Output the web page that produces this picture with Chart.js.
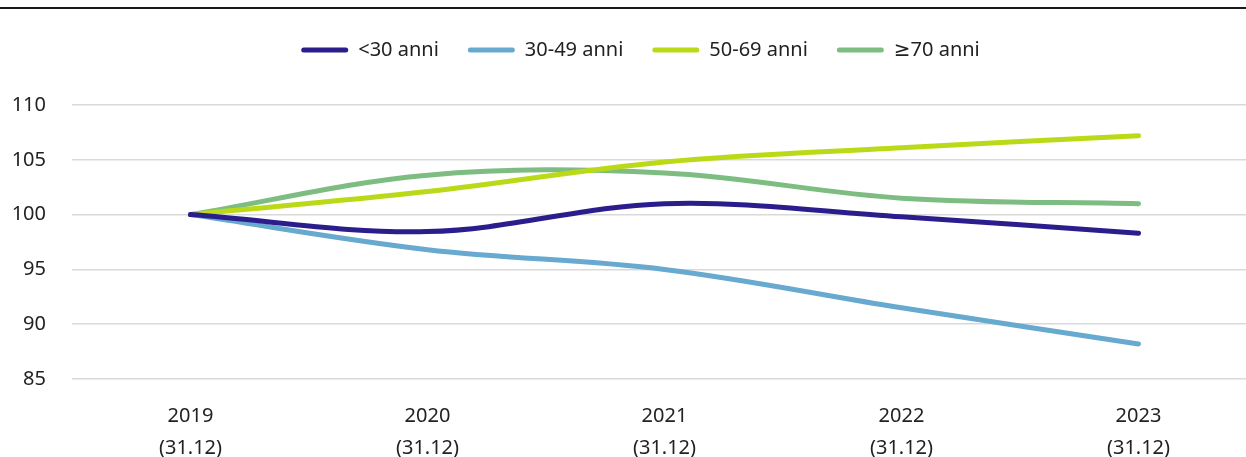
<!DOCTYPE html>
<html>
<head>
<meta charset="utf-8">
<script src="https://cdn.jsdelivr.net/npm/chart.js@4.4.1/dist/chart.umd.min.js"></script>
<style>
  html, body { margin: 0; padding: 0; background: #fff; overflow: hidden; }
  #topRule { position: absolute; left: 0; top: 7px; width: 1246px; height: 2px; background: #1a1a1a; }
  #wrap { position: absolute; left: 0; top: 0; width: 1257px; height: 457px; }
</style>
</head>
<body>
<div id="wrap"><canvas id="ageChart"></canvas></div>
<div id="topRule"></div>
<script>
const years = [['2019', '(31.12)'], ['2020', '(31.12)'], ['2021', '(31.12)'], ['2022', '(31.12)'], ['2023', '(31.12)']];
const under30 = [100, 98.45, 101.0, 99.8, 98.3];
const age30to49 = [100, 96.8, 95.0, 91.5, 88.2];
const age50to69 = [100, 102.1, 104.8, 106.1, 107.2];
const over70 = [100, 103.6, 103.8, 101.5, 101.0];
const yTicks = [85, 90, 95, 100, 105, 110];

const font = "'Noto Sans', 'DejaVu Sans', sans-serif";

function series(label, data, color) {
    return {
        label: label,
        data: data,
        borderColor: color,
        backgroundColor: color,
        borderWidth: 5,
        borderCapStyle: 'round',
        tension: 0.35,
        pointRadius: 0,
        fill: false
    };
}

// extra room under the legend, and nudge it right
const legendGap = {
    id: 'legendGap',
    beforeInit(chart) {
        const fit = chart.legend.fit;
        chart.legend.fit = function () {
            fit.bind(chart.legend)();
            this.height += 35;
        };
    },
    afterLayout(chart) {
        chart.legend.left += 12;
        chart.legend.right += 12;
    }
};

new Chart(document.getElementById('ageChart'), {
    type: 'line',
    data: {
        labels: years,
        datasets: [
            series('<30 anni', under30, '#2b1e8c'),
            series('30-49 anni', age30to49, '#67a9cf'),
            series('50-69 anni', age50to69, '#bcd918'),
            series('≥70 anni', over70, '#7dbd82')
        ]
    },
    plugins: [legendGap],
    options: {
        responsive: true,
        maintainAspectRatio: false,
        animation: false,
        layout: { padding: { top: 11, right: 0, left: 0, bottom: 0 } },
        plugins: {
            tooltip: { enabled: false },
            legend: {
                position: 'top',
                labels: {
                    boxWidth: 47,
                    boxHeight: 5,
                    padding: 29,
                    color: '#222',
                    font: { family: font, size: 20 },
                    generateLabels: chart => chart.data.datasets.map((ds, i) => ({
                        text: ds.label,
                        fillStyle: ds.borderColor,
                        strokeStyle: ds.borderColor,
                        lineWidth: 0,
                        borderRadius: 2.5,
                        fontColor: '#222',
                        datasetIndex: i
                    }))
                }
            }
        },
        scales: {
            x: {
                offset: true,
                grid: { display: false },
                border: { display: false },
                ticks: {
                    color: '#222',
                    font: { family: font, size: 20, lineHeight: 1.6 },
                    maxRotation: 0,
                    padding: 13
                },
                afterFit: scale => { scale.height = 78; }
            },
            y: {
                min: 85,
                max: 110,
                afterBuildTicks: scale => { scale.ticks = yTicks.map(v => ({ value: v })); },
                grid: { color: '#d9d9d9', lineWidth: 1.5, drawTicks: false },
                border: { display: false },
                ticks: {
                    color: '#222',
                    font: { family: font, size: 20 },
                    padding: 26
                },
                afterFit: scale => { scale.width = 72; }
            }
        }
    }
});
</script>
</body>
</html>
